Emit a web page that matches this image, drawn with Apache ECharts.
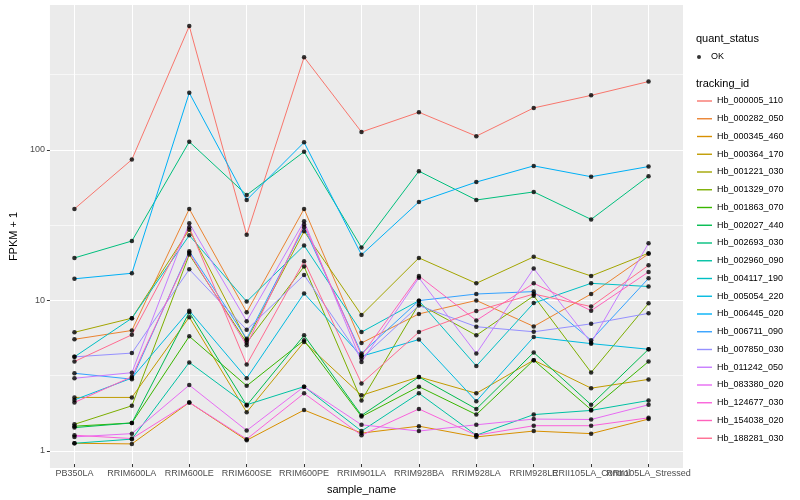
<!DOCTYPE html>
<html>
<head>
<meta charset="utf-8">
<script src="https://cdn.jsdelivr.net/npm/echarts@6/dist/echarts.min.js"></script>
<style>
html,body{margin:0;padding:0;background:#fff;}
#chart{width:800px;height:500px;}
</style>
</head>
<body>
<div id="chart"></div>
<script>
// ---- data ----
const categories = ['PB350LA','RRIM600LA','RRIM600LE','RRIM600SE','RRIM600PE','RRIM901LA','RRIM928BA','RRIM928LA','RRIM928LE','RRII105LA_Control','RRII105LA_Stressed'];
const trackingIds = ['Hb_000005_110','Hb_000282_050','Hb_000345_460','Hb_000364_170','Hb_001221_030','Hb_001329_070','Hb_001863_070','Hb_002027_440','Hb_002693_030','Hb_002960_090','Hb_004117_190','Hb_005054_220','Hb_006445_020','Hb_006711_090','Hb_007850_030','Hb_011242_050','Hb_083380_020','Hb_124677_030','Hb_154038_020','Hb_188281_030'];
const Hb_000005_110 = [39.4, 84.3, 661, 26.4, 409, 129, 175, 121, 187, 227, 281];
const Hb_000282_050 = [5.27, 6.04, 39.4, 8.0, 39.4, 4.98, 7.8, 9.6, 6.43, 10.6, 19.7];
const Hb_000345_460 = [1.06, 1.05, 1.99, 1.11, 1.77, 1.24, 1.38, 1.17, 1.28, 1.23, 1.54];
const Hb_000364_170 = [2.15, 2.15, 7.41, 1.71, 5.06, 2.22, 2.95, 2.29, 3.82, 2.48, 2.84];
const Hb_001221_030 = [5.87, 7.3, 28.6, 5.19, 27.9, 7.67, 18.5, 12.5, 18.8, 14.0, 19.9];
const Hb_001329_070 = [1.42, 1.89, 19.5, 5.0, 16.2, 2.05, 9.08, 5.6, 10.3, 3.16, 9.18];
const Hb_001863_070 = [1.38, 1.45, 5.52, 2.57, 5.19, 1.6, 2.54, 1.65, 3.82, 1.78, 3.74];
const Hb_002027_440 = [1.35, 1.45, 8.0, 1.9, 5.6, 1.63, 2.95, 1.8, 4.3, 1.92, 4.52];
const Hb_002693_030 = [18.5, 24.0, 111, 48.8, 95.2, 21.7, 70.5, 45.2, 51.2, 33.5, 65.3];
const Hb_002960_090 = [1.06, 1.13, 3.69, 1.92, 2.54, 1.28, 2.29, 1.2, 1.65, 1.76, 2.05];
const Hb_004117_190 = [4.02, 7.3, 26.2, 9.43, 22.4, 5.89, 9.57, 3.49, 9.22, 12.5, 11.9];
const Hb_005054_220 = [2.07, 2.9, 8.2, 2.89, 10.7, 4.06, 5.25, 2.03, 5.46, 4.93, 4.52];
const Hb_006445_020 = [13.4, 14.6, 236, 45.2, 110, 19.4, 43.9, 59.6, 76.5, 64.7, 75.7];
const Hb_006711_090 = [3.12, 2.85, 20.5, 5.32, 29.7, 4.23, 9.57, 10.6, 11.0, 5.19, 13.5];
const Hb_007850_030 = [4.02, 4.26, 15.5, 6.1, 14.2, 3.92, 8.87, 6.4, 5.92, 6.69, 7.87];
const Hb_011242_050 = [2.89, 3.15, 31.6, 6.97, 32.5, 3.72, 13.6, 4.23, 15.7, 5.0, 23.2];
const Hb_083380_020 = [1.17, 1.23, 2.6, 1.29, 2.54, 1.41, 1.28, 1.41, 1.54, 1.53, 1.92];
const Hb_124677_030 = [1.2, 1.14, 1.99, 1.13, 2.29, 1.2, 1.8, 1.2, 1.39, 1.39, 1.57];
const Hb_154038_020 = [1.99, 2.96, 20.0, 4.81, 31.0, 4.1, 14.0, 7.05, 12.5, 8.2, 14.9];
const Hb_188281_030 = [3.74, 5.65, 29.7, 3.57, 17.6, 2.67, 5.89, 8.16, 10.6, 8.73, 16.5];
const yMajorTicks = [1, 10, 100];
const yMinorTicks = [3.1623, 31.623, 316.23];
const quantStatus = ['OK'];

// ---- styles ----
const palette = ['#F8766D','#EA8331','#D89000','#C09B00','#A3A500','#7CAE00','#39B600','#00BB4E','#00BF7D','#00C1A3','#00BFC4','#00BAE0','#00B0F6','#35A2FF','#9590FF','#C77CFF','#E76BF3','#FA62DB','#FF62BC','#FF6C91'];
const seriesValues = [Hb_000005_110,Hb_000282_050,Hb_000345_460,Hb_000364_170,Hb_001221_030,Hb_001329_070,Hb_001863_070,Hb_002027_440,Hb_002693_030,Hb_002960_090,Hb_004117_190,Hb_005054_220,Hb_006445_020,Hb_006711_090,Hb_007850_030,Hb_011242_050,Hb_083380_020,Hb_124677_030,Hb_154038_020,Hb_188281_030];

const FONT = '"Liberation Sans", Arial, Helvetica, sans-serif';
const YMIN = 0.77, YMAX = 915;

const series = [];
// minor horizontal grid lines (ggplot minor breaks at half decades), under the data
series.push({
  name: '_minorGrid', type: 'line', xAxisIndex: 0, yAxisIndex: 0, data: [],
  silent: true, animation: false, z: 1,
  markLine: {
    z: 1, silent: true, symbol: ['none', 'none'], label: {show: false}, animation: false,
    emphasis: {disabled: true},
    lineStyle: {color: '#FFFFFF', width: 0.6, type: 'solid', opacity: 1},
    data: yMinorTicks.map(v => ({yAxis: v}))
  }
});
trackingIds.forEach((id, i) => {
  series.push({
    name: id, type: 'line', xAxisIndex: 1, yAxisIndex: 1,
    data: seriesValues[i], showSymbol: false, symbol: 'none',
    lineStyle: {color: palette[i], width: 1}, itemStyle: {color: palette[i]},
    z: 2, silent: true, animation: false
  });
});
trackingIds.forEach((id, i) => {
  series.push({
    name: quantStatus[0], type: 'scatter', xAxisIndex: 1, yAxisIndex: 1,
    data: seriesValues[i], symbol: 'circle', symbolSize: 4.5,
    itemStyle: {color: '#000'}, z: 5, silent: true, animation: false
  });
});

const chart = echarts.init(document.getElementById('chart'), null, {renderer: 'canvas'});
chart.setOption({
  animation: false,
  backgroundColor: '#fff',
  textStyle: {fontFamily: FONT},
  grid: [
    {left: 40, top: 5, width: 643, height: 463, show: true, backgroundColor: '#EBEBEB', borderWidth: 0},
    {left: 74.45, top: 5, width: 574.1, height: 463, show: false}
  ],
  title: [
    {text: 'quant_status', left: 696, top: 33, textStyle: {fontSize: 11, fontWeight: 'normal', color: '#000', fontFamily: FONT}, padding: 0},
    {text: 'tracking_id', left: 696, top: 78, textStyle: {fontSize: 11, fontWeight: 'normal', color: '#000', fontFamily: FONT}, padding: 0}
  ],
  legend: [
    {
      data: quantStatus, orient: 'vertical', left: 697, top: 51, padding: 0,
      icon: 'circle', itemWidth: 14, itemHeight: 4,
      textStyle: {fontSize: 9, color: '#000', fontFamily: FONT, lineHeight: 12},
      itemStyle: {color: '#000'}
    },
    {
      data: trackingIds, orient: 'vertical', left: 697, top: 95, padding: 0,
      icon: 'rect', itemWidth: 15, itemHeight: 1.4, itemGap: 5.75,
      textStyle: {fontSize: 9, color: '#000', fontFamily: FONT, lineHeight: 12}
    }
  ],
  xAxis: [
    {type: 'value', gridIndex: 0, min: 0, max: 1, show: false},
    {
      type: 'category', gridIndex: 1, data: categories, boundaryGap: false,
      name: 'sample_name', nameLocation: 'middle', nameGap: 20,
      nameTextStyle: {fontSize: 11, color: '#000', fontFamily: FONT},
      axisLine: {show: false},
      axisTick: {show: true, length: 3, lineStyle: {color: '#333333', width: 1}, alignWithLabel: true},
      axisLabel: {interval: 0, fontSize: 9, color: '#4D4D4D', margin: 5, fontFamily: FONT},
      splitLine: {show: true, lineStyle: {color: '#FFFFFF', width: 1}}
    }
  ],
  yAxis: [
    {
      type: 'log', logBase: 10, gridIndex: 0, min: YMIN, max: YMAX,
      name: 'FPKM + 1', nameLocation: 'middle', nameGap: 25, nameRotate: 90,
      nameTextStyle: {fontSize: 11, color: '#000', fontFamily: FONT},
      axisLine: {show: false},
      axisTick: {show: true, length: 3, customValues: yMajorTicks, lineStyle: {color: '#333333', width: 1}},
      axisLabel: {fontSize: 9, color: '#4D4D4D', margin: 5, customValues: yMajorTicks, fontFamily: FONT},
      splitLine: {show: true, lineStyle: {color: '#FFFFFF', width: 1}}
    },
    {
      type: 'log', logBase: 10, gridIndex: 1, min: YMIN, max: YMAX, show: false,
      splitLine: {show: false}
    }
  ],
  series: series
});
</script>
</body>
</html>
